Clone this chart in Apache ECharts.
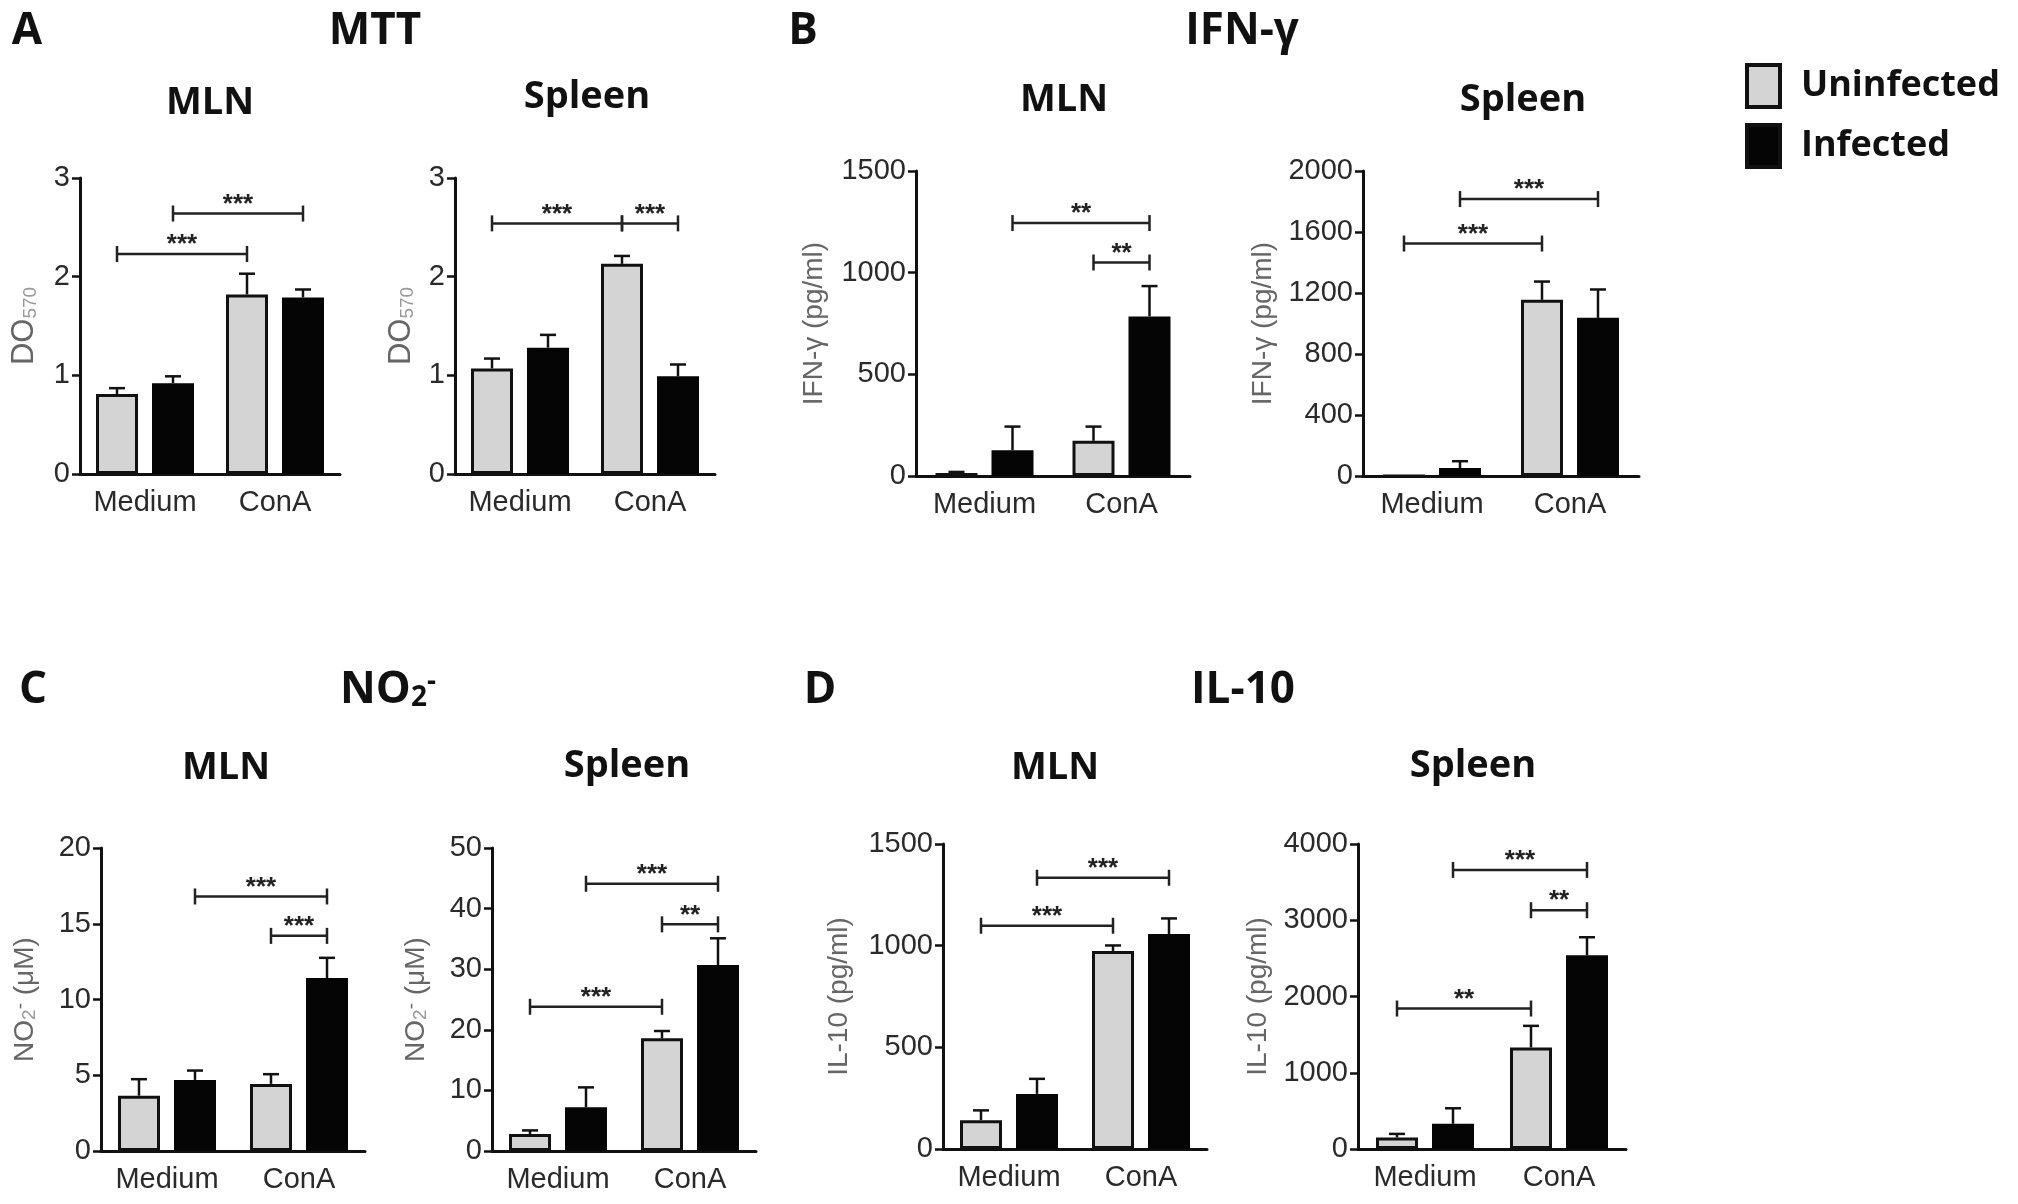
<!DOCTYPE html>
<html>
<head>
<meta charset="utf-8">
<script src="https://cdn.jsdelivr.net/npm/echarts@6/dist/echarts.min.js"></script>
<style>
  html, body { margin: 0; padding: 0; background: #fff; }
  #chart { width: 2018px; height: 1204px; }
</style>
</head>
<body>
<div id="chart"></div>
<script>
// categories shared by every sub-plot
var categories = ['Medium', 'ConA'];

// A - MTT
var mttTicks = [0, 1, 2, 3];
var mttMlnUninf = [0.81, 1.82];
var mttMlnUninfErr = [0.06, 0.21];
var mttMlnInf = [0.92, 1.79];
var mttMlnInfErr = [0.07, 0.08];
var mttMlnSig = [[0, 1, 1, 1, 2.64, '***'], [0, 0, 1, 0, 2.23, '***']];
var mttSplUninf = [1.07, 2.13];
var mttSplUninfErr = [0.10, 0.08];
var mttSplInf = [1.28, 0.99];
var mttSplInfErr = [0.13, 0.12];
var mttSplSig = [[0, 0, 1, 0, 2.54, '***'], [1, 0, 1, 1, 2.54, '***']];

// B - IFN-gamma
var ifnMlnTicks = [0, 500, 1000, 1500];
var ifnMlnUninf = [15, 173];
var ifnMlnUninfErr = [5, 70];
var ifnMlnInf = [127, 785];
var ifnMlnInfErr = [116, 149];
var ifnMlnSig = [[0, 1, 1, 1, 1244, '**'], [1, 0, 1, 1, 1050, '**']];
var ifnSplTicks = [0, 400, 800, 1200, 1600, 2000];
var ifnSplUninf = [0, 1155];
var ifnSplUninfErr = [0, 120];
var ifnSplInf = [52, 1037];
var ifnSplInfErr = [45, 186];
var ifnSplSig = [[0, 1, 1, 1, 1816, '***'], [0, 0, 1, 0, 1524, '***']];

// C - NO2-
var noMlnTicks = [0, 5, 10, 15, 20];
var noMlnUninf = [3.65, 4.43];
var noMlnUninfErr = [1.09, 0.64];
var noMlnInf = [4.69, 11.42];
var noMlnInfErr = [0.62, 1.33];
var noMlnSig = [[0, 1, 1, 1, 16.8, '***'], [1, 0, 1, 1, 14.2, '***']];
var noSplTicks = [0, 10, 20, 30, 40, 50];
var noSplUninf = [2.8, 18.6];
var noSplUninfErr = [0.6, 1.2];
var noSplInf = [7.2, 30.7];
var noSplInfErr = [3.3, 4.4];
var noSplSig = [[0, 1, 1, 1, 44.1, '***'], [1, 0, 1, 1, 37.4, '**'], [0, 0, 1, 0, 23.8, '***']];

// D - IL-10
var ilMlnTicks = [0, 500, 1000, 1500];
var ilMlnUninf = [142, 974];
var ilMlnUninfErr = [48, 27];
var ilMlnInf = [271, 1057];
var ilMlnInfErr = [74, 77];
var ilMlnSig = [[0, 1, 1, 1, 1334, '***'], [0, 0, 1, 0, 1098, '***']];
var ilSplTicks = [0, 1000, 2000, 3000, 4000];
var ilSplUninf = [151, 1332];
var ilSplUninfErr = [47, 283];
var ilSplInf = [331, 2541];
var ilSplInfErr = [203, 236];
var ilSplSig = [[0, 1, 1, 1, 3660, '***'], [1, 0, 1, 1, 3131, '**'], [0, 0, 1, 0, 1842, '**']];

var BAR_W = 42, BAR_GAP = 14, CAP = 16;
var INK = '#111';
var GRAY = '#d4d4d4';
var AXIS_FONT = 'Liberation Sans';
var TITLE_FONT = 'Open Sans';

function off(s) { return (s === 0 ? -1 : 1) * (BAR_W + BAR_GAP) / 2; }

var nameRich = {
  s: { fontSize: 19, color: '#999', verticalAlign: 'bottom', lineHeight: 20, padding: [12, 0, 0, 0] },
  p: { fontSize: 19, color: '#666', verticalAlign: 'top', lineHeight: 20 }
};

var panels = [
  { grid: [80, 178, 260, 296], ticks: mttTicks, u: mttMlnUninf, ue: mttMlnUninfErr, i: mttMlnInf, ie: mttMlnInfErr, sig: mttMlnSig,
    yName: 'DO{s|570}', nameSize: 31, gap: 40, title: ['MLN', 210, 103] },
  { grid: [455, 178, 260, 296], ticks: mttTicks, u: mttSplUninf, ue: mttSplUninfErr, i: mttSplInf, ie: mttSplInfErr, sig: mttSplSig,
    yName: 'DO{s|570}', nameSize: 31, gap: 38, title: ['Spleen', 587, 97] },
  { grid: [916, 171, 274, 305], ticks: ifnMlnTicks, u: ifnMlnUninf, ue: ifnMlnUninfErr, i: ifnMlnInf, ie: ifnMlnInfErr, sig: ifnMlnSig,
    yName: 'IFN-γ (pg/ml)', nameSize: 28, gap: 88, title: ['MLN', 1064, 100] },
  { grid: [1363, 171, 276, 305], ticks: ifnSplTicks, u: ifnSplUninf, ue: ifnSplUninfErr, i: ifnSplInf, ie: ifnSplInfErr, sig: ifnSplSig,
    yName: 'IFN-γ (pg/ml)', nameSize: 28, gap: 86, title: ['Spleen', 1523, 100] },
  { grid: [101, 848, 264, 303], ticks: noMlnTicks, u: noMlnUninf, ue: noMlnUninfErr, i: noMlnInf, ie: noMlnInfErr, sig: noMlnSig,
    yName: 'NO{s|2}{p|-} (μM)', nameSize: 28, gap: 62, title: ['MLN', 226, 768] },
  { grid: [492, 848, 264, 303], ticks: noSplTicks, u: noSplUninf, ue: noSplUninfErr, i: noSplInf, ie: noSplInfErr, sig: noSplSig,
    yName: 'NO{s|2}{p|-} (μM)', nameSize: 28, gap: 62, title: ['Spleen', 627, 766] },
  { grid: [943, 844, 264, 305], ticks: ilMlnTicks, u: ilMlnUninf, ue: ilMlnUninfErr, i: ilMlnInf, ie: ilMlnInfErr, sig: ilMlnSig,
    yName: 'IL-10 (pg/ml)', nameSize: 28, gap: 90, title: ['MLN', 1055, 768] },
  { grid: [1358, 844, 268, 305], ticks: ilSplTicks, u: ilSplUninf, ue: ilSplUninfErr, i: ilSplInf, ie: ilSplInfErr, sig: ilSplSig,
    yName: 'IL-10 (pg/ml)', nameSize: 28, gap: 86, title: ['Spleen', 1473, 766] }
];

var bigTitles = [
  ['A', 27, 31], ['MTT', 375, 31],
  ['B', 803, 31], ['IFN-γ', 1242, 31],
  ['C', 33, 690], ['NO{s|2}{p|-}', 388, 690],
  ['D', 820, 690], ['IL-10', 1243, 690]
];

function errRender(params, api) {
  var cat = api.value(0), s = api.value(1), m = api.value(2), e = api.value(3);
  if (!e) return null;
  var base = api.coord([cat, m]);
  var top = api.coord([cat, m + e]);
  var x = base[0] + off(s);
  var st = { stroke: INK, lineWidth: 2.5 };
  return { type: 'group', children: [
    { type: 'line', shape: { x1: x, y1: base[1], x2: x, y2: top[1] }, style: st },
    { type: 'line', shape: { x1: x - CAP / 2, y1: top[1], x2: x + CAP / 2, y2: top[1] }, style: st }
  ] };
}

function sigRender(sig) {
  return function (params, api) {
    var d = sig[params.dataIndex];
    var p1 = api.coord([d[0], d[4]]);
    var p2 = api.coord([d[2], d[4]]);
    var y = p1[1];
    var x1 = p1[0] + off(d[1]);
    var x2 = p2[0] + off(d[3]);
    var st = { stroke: '#222', lineWidth: 2.5 };
    return { type: 'group', children: [
      { type: 'line', shape: { x1: x1, y1: y, x2: x2, y2: y }, style: st },
      { type: 'line', shape: { x1: x1, y1: y - 8, x2: x1, y2: y + 8 }, style: st },
      { type: 'line', shape: { x1: x2, y1: y - 8, x2: x2, y2: y + 8 }, style: st },
      { type: 'text', x: (x1 + x2) / 2, y: y - 9,
        style: { text: d[5], fill: '#222', font: 'bold 26px "Liberation Sans"', align: 'center', verticalAlign: 'middle' } }
    ] };
  };
}

var grids = [], xAxes = [], yAxes = [], series = [], graphics = [];

panels.forEach(function (p, k) {
  grids.push({ left: p.grid[0], top: p.grid[1], width: p.grid[2], height: p.grid[3] });
  xAxes.push({
    gridIndex: k, type: 'category', data: categories,
    axisLine: { lineStyle: { color: INK, width: 3 } },
    axisTick: { alignWithLabel: true, length: 9, lineStyle: { color: INK, width: 2.5 } },
    axisLabel: { interval: 0, fontFamily: AXIS_FONT, fontSize: 29, color: '#2a2a2a', margin: 14 }
  });
  yAxes.push({
    gridIndex: k, type: 'value',
    min: p.ticks[0], max: p.ticks[p.ticks.length - 1], interval: p.ticks[1] - p.ticks[0],
    splitLine: { show: false },
    axisLine: { show: true, lineStyle: { color: INK, width: 3 } },
    axisTick: { show: true, length: 8, lineStyle: { color: INK, width: 2.5 } },
    axisLabel: { fontFamily: AXIS_FONT, fontSize: 29, color: '#2a2a2a', margin: 10,
      formatter: function (v) { return String(v); } },
    name: p.yName, nameLocation: 'middle', nameRotate: 90, nameGap: p.gap,
    nameTextStyle: { fontFamily: AXIS_FONT, fontSize: p.nameSize, color: '#666', rich: nameRich }
  });
  series.push({
    name: 'Uninfected', type: 'bar', xAxisIndex: k, yAxisIndex: k, data: p.u,
    barWidth: BAR_W, barGap: (BAR_GAP / BAR_W * 100) + '%',
    itemStyle: { color: GRAY, borderColor: INK, borderWidth: 3 }
  });
  series.push({
    name: 'Infected', type: 'bar', xAxisIndex: k, yAxisIndex: k, data: p.i,
    barWidth: BAR_W, barGap: (BAR_GAP / BAR_W * 100) + '%',
    itemStyle: { color: '#050505', borderColor: '#050505', borderWidth: 3 }
  });
  var errData = [];
  categories.forEach(function (c, j) {
    errData.push([j, 0, p.u[j], p.ue[j]]);
    errData.push([j, 1, p.i[j], p.ie[j]]);
  });
  series.push({
    type: 'custom', xAxisIndex: k, yAxisIndex: k, data: errData,
    encode: { x: 0, y: 2 }, renderItem: errRender, z: 5, silent: true
  });
  series.push({
    type: 'custom', xAxisIndex: k, yAxisIndex: k,
    data: p.sig.map(function (d) { return [d[0], d[4]]; }),
    encode: { x: 0, y: 1 }, renderItem: sigRender(p.sig), z: 5, silent: true
  });
  graphics.push({
    type: 'text', x: p.title[1], y: p.title[2],
    style: { text: p.title[0], font: 'bold 38px "Open Sans"', fill: '#111', align: 'center', verticalAlign: 'middle' }
  });
});

bigTitles.forEach(function (t) {
  graphics.push({
    type: 'text', x: t[1], y: t[2],
    style: {
      text: t[0], font: 'bold 44px "Open Sans"', fill: '#111', align: 'center', verticalAlign: 'middle',
      rich: {
        s: { font: 'bold 28px "Open Sans"', fill: '#111', verticalAlign: 'bottom', lineHeight: 28, padding: [24, 0, 0, 0] },
        p: { font: 'bold 28px "Open Sans"', fill: '#111', verticalAlign: 'top', lineHeight: 28 }
      }
    }
  });
});

var chart = echarts.init(document.getElementById('chart'));
chart.setOption({
  animation: false,
  backgroundColor: '#fff',
  grid: grids,
  xAxis: xAxes,
  yAxis: yAxes,
  series: series,
  graphic: graphics,
  legend: {
    orient: 'vertical', left: 1740, top: 58,
    itemWidth: 33, itemHeight: 42, itemGap: 14, icon: 'rect',
    data: ['Uninfected', 'Infected'],
    itemStyle: { borderColor: INK, borderWidth: 4 },
    textStyle: { fontFamily: TITLE_FONT, fontWeight: 'bold', fontSize: 36, color: '#111', padding: [0, 0, 0, 16] }
  }
});
</script>
</body>
</html>
